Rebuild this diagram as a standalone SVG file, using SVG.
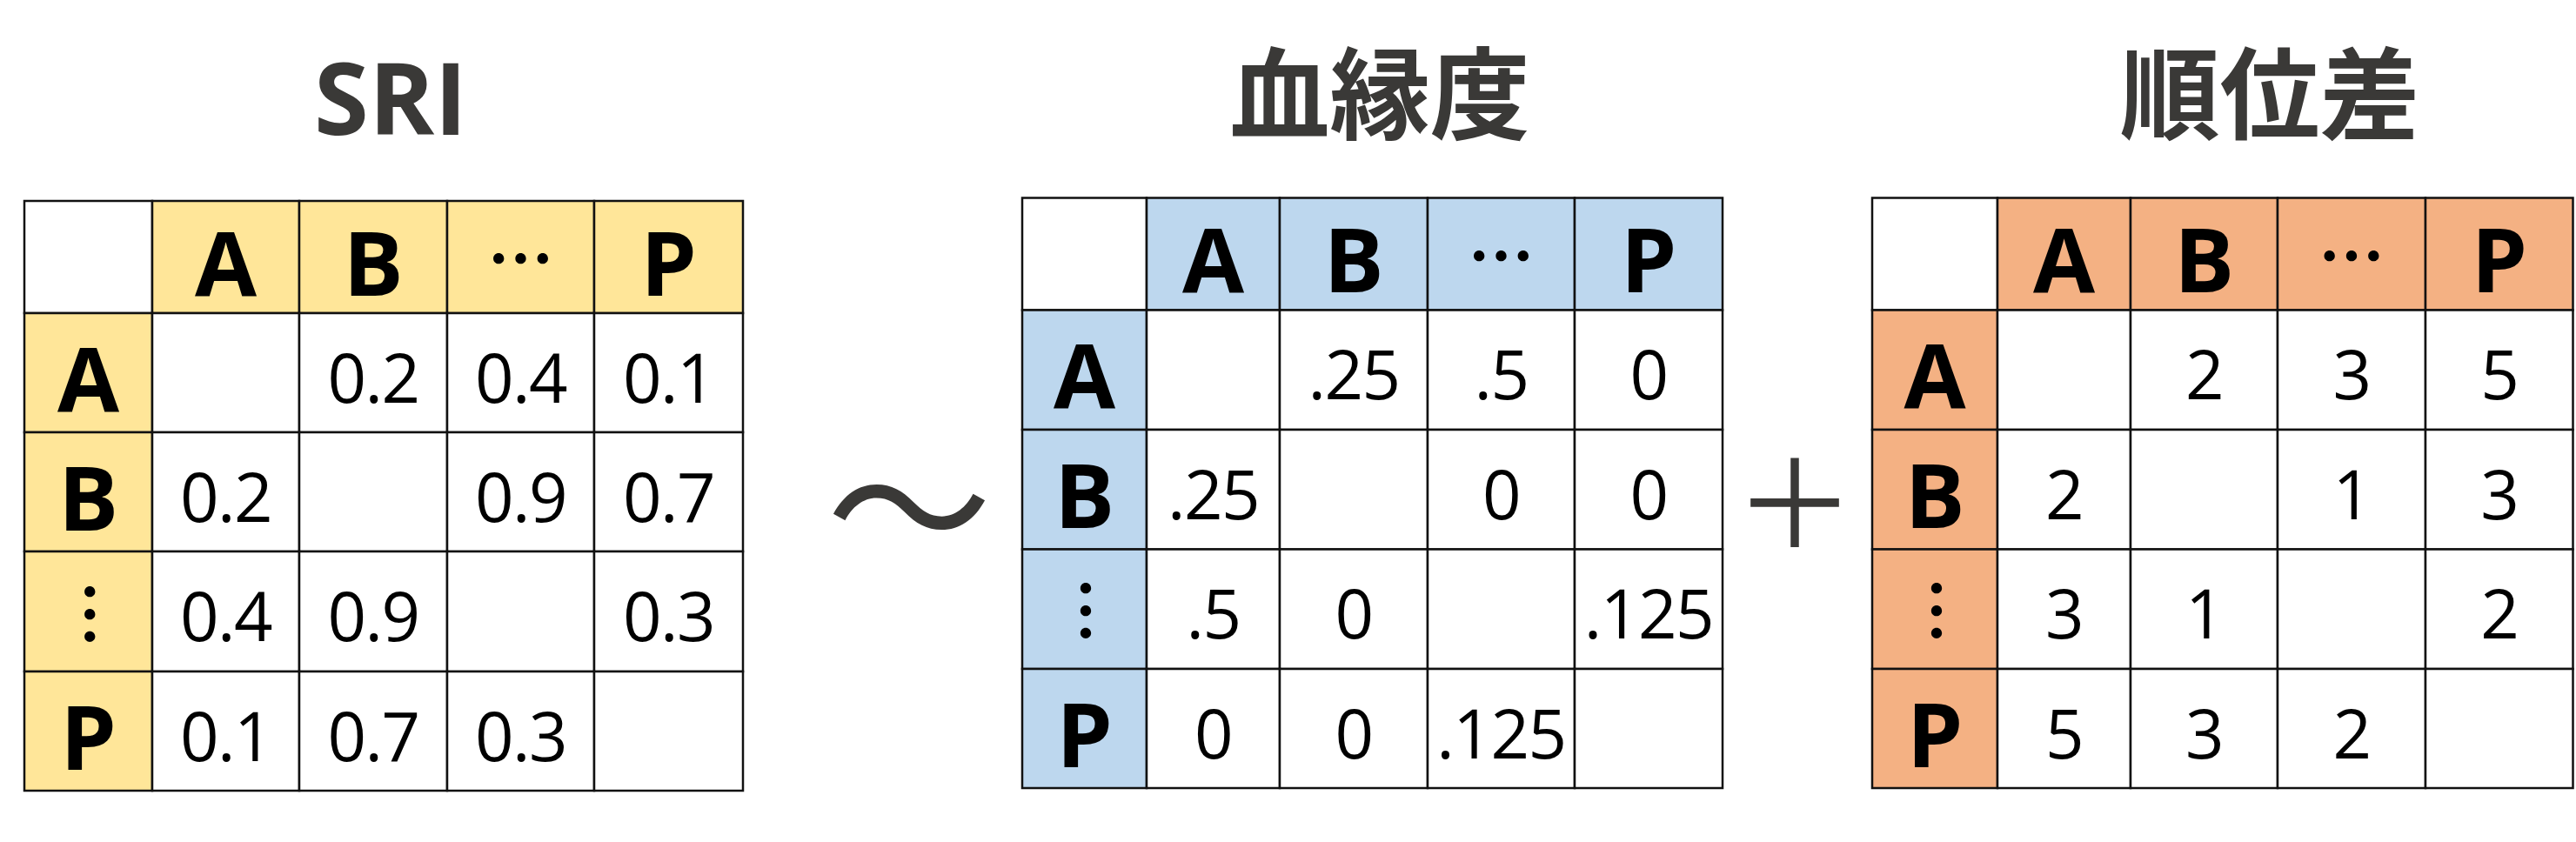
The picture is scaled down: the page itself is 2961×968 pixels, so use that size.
<svg xmlns="http://www.w3.org/2000/svg" width="2961" height="968" viewBox="0 0 2961 968">
<style>
.cell{stroke:#111;stroke-width:2.5}
.w{fill:#fff}
.y{fill:#FFE699}
.b{fill:#BDD7EE}
.o{fill:#F4B183}
.hd{font-family:"Open Sans","Noto Sans",sans-serif;font-weight:700;font-size:103px;fill:#000;text-anchor:middle}
.num{font-family:"Open Sans","Noto Sans",sans-serif;font-weight:400;font-size:78px;fill:#000;text-anchor:middle;letter-spacing:-1.5px}
.el{font-family:"Noto Sans CJK JP","DejaVu Sans",sans-serif;font-weight:700;font-size:76px;fill:#000;text-anchor:middle}
.ttl{font-family:"Open Sans","Noto Sans","Noto Sans CJK JP",sans-serif;font-weight:700;font-size:114px;fill:#3a3937;text-anchor:middle}
.cjk{font-family:"Noto Sans CJK JP",sans-serif;font-weight:700;font-size:115px;fill:#3a3937;text-anchor:middle}
.op{font-family:"Noto Sans CJK JP",sans-serif;fill:#3a3937;text-anchor:middle}
</style>
<rect width="2961" height="968" fill="#fff"/>

<g id="title-sri"><text class="ttl" x="449" y="155">SRI</text></g>
<g id="title-kinship"><text class="cjk" x="1586" y="151">血縁度</text></g>
<g id="title-rank"><text class="cjk" x="2609" y="151">順位差</text></g>

<g id="table-sri">
<rect class="cell w" x="28" y="231" width="147" height="129"/>
<rect class="cell y" x="175" y="231" width="169" height="129"/>
<rect class="cell y" x="344" y="231" width="170" height="129"/>
<rect class="cell y" x="514" y="231" width="169" height="129"/>
<rect class="cell y" x="683" y="231" width="171" height="129"/>
<rect class="cell y" x="28" y="360" width="147" height="137"/>
<rect class="cell y" x="28" y="497" width="147" height="137"/>
<rect class="cell y" x="28" y="634" width="147" height="138"/>
<rect class="cell y" x="28" y="772" width="147" height="137"/>
<rect class="cell w" x="175" y="360" width="169" height="137"/>
<rect class="cell w" x="344" y="360" width="170" height="137"/>
<rect class="cell w" x="514" y="360" width="169" height="137"/>
<rect class="cell w" x="683" y="360" width="171" height="137"/>
<rect class="cell w" x="175" y="497" width="169" height="137"/>
<rect class="cell w" x="344" y="497" width="170" height="137"/>
<rect class="cell w" x="514" y="497" width="169" height="137"/>
<rect class="cell w" x="683" y="497" width="171" height="137"/>
<rect class="cell w" x="175" y="634" width="169" height="138"/>
<rect class="cell w" x="344" y="634" width="170" height="138"/>
<rect class="cell w" x="514" y="634" width="169" height="138"/>
<rect class="cell w" x="683" y="634" width="171" height="138"/>
<rect class="cell w" x="175" y="772" width="169" height="137"/>
<rect class="cell w" x="344" y="772" width="170" height="137"/>
<rect class="cell w" x="514" y="772" width="169" height="137"/>
<rect class="cell w" x="683" y="772" width="171" height="137"/>
<text class="hd" x="259.5" y="339.5">A</text>
<text class="hd" x="429" y="339.5">B</text>
<text class="el" x="598.5" y="326.2">…</text>
<text class="hd" x="768.5" y="339.5">P</text>
<text class="hd" x="101.5" y="472.5">A</text>
<text class="hd" x="101.5" y="609.5">B</text>
<text class="el" x="103.3" y="734.6">︙</text>
<text class="hd" x="101.5" y="884.5">P</text>
<text class="num" x="429" y="462.5">0.2</text>
<text class="num" x="598.5" y="462.5">0.4</text>
<text class="num" x="768.5" y="462.5">0.1</text>
<text class="num" x="259.5" y="599.5">0.2</text>
<text class="num" x="598.5" y="599.5">0.9</text>
<text class="num" x="768.5" y="599.5">0.7</text>
<text class="num" x="259.5" y="737">0.4</text>
<text class="num" x="429" y="737">0.9</text>
<text class="num" x="768.5" y="737">0.3</text>
<text class="num" x="259.5" y="874.5">0.1</text>
<text class="num" x="429" y="874.5">0.7</text>
<text class="num" x="598.5" y="874.5">0.3</text>
</g>

<g id="table-kinship">
<rect class="cell w" x="1175" y="227.5" width="143" height="129"/>
<rect class="cell b" x="1318" y="227.5" width="153" height="129"/>
<rect class="cell b" x="1471" y="227.5" width="170" height="129"/>
<rect class="cell b" x="1641" y="227.5" width="169" height="129"/>
<rect class="cell b" x="1810" y="227.5" width="170" height="129"/>
<rect class="cell b" x="1175" y="356.5" width="143" height="137.5"/>
<rect class="cell b" x="1175" y="494" width="143" height="137.5"/>
<rect class="cell b" x="1175" y="631.5" width="143" height="137.5"/>
<rect class="cell b" x="1175" y="769" width="143" height="137"/>
<rect class="cell w" x="1318" y="356.5" width="153" height="137.5"/>
<rect class="cell w" x="1471" y="356.5" width="170" height="137.5"/>
<rect class="cell w" x="1641" y="356.5" width="169" height="137.5"/>
<rect class="cell w" x="1810" y="356.5" width="170" height="137.5"/>
<rect class="cell w" x="1318" y="494" width="153" height="137.5"/>
<rect class="cell w" x="1471" y="494" width="170" height="137.5"/>
<rect class="cell w" x="1641" y="494" width="169" height="137.5"/>
<rect class="cell w" x="1810" y="494" width="170" height="137.5"/>
<rect class="cell w" x="1318" y="631.5" width="153" height="137.5"/>
<rect class="cell w" x="1471" y="631.5" width="170" height="137.5"/>
<rect class="cell w" x="1641" y="631.5" width="169" height="137.5"/>
<rect class="cell w" x="1810" y="631.5" width="170" height="137.5"/>
<rect class="cell w" x="1318" y="769" width="153" height="137"/>
<rect class="cell w" x="1471" y="769" width="170" height="137"/>
<rect class="cell w" x="1641" y="769" width="169" height="137"/>
<rect class="cell w" x="1810" y="769" width="170" height="137"/>
<text class="hd" x="1394.5" y="336">A</text>
<text class="hd" x="1556" y="336">B</text>
<text class="el" x="1725.5" y="322.7">…</text>
<text class="hd" x="1895" y="336">P</text>
<text class="hd" x="1246.5" y="469.25">A</text>
<text class="hd" x="1246.5" y="606.75">B</text>
<text class="el" x="1248" y="731.3">︙</text>
<text class="hd" x="1246.5" y="881.5">P</text>
<text class="num" x="1556" y="459.25">.25</text>
<text class="num" x="1725.5" y="459.25">.5</text>
<text class="num" x="1895" y="459.25">0</text>
<text class="num" x="1394.5" y="596.75">.25</text>
<text class="num" x="1725.5" y="596.75">0</text>
<text class="num" x="1895" y="596.75">0</text>
<text class="num" x="1394.5" y="734.25">.5</text>
<text class="num" x="1556" y="734.25">0</text>
<text class="num" x="1895" y="734.25">.125</text>
<text class="num" x="1394.5" y="871.5">0</text>
<text class="num" x="1556" y="871.5">0</text>
<text class="num" x="1725.5" y="871.5">.125</text>
</g>

<g id="table-rank">
<rect class="cell w" x="2152" y="227.5" width="144" height="129"/>
<rect class="cell o" x="2296" y="227.5" width="153" height="129"/>
<rect class="cell o" x="2449" y="227.5" width="169" height="129"/>
<rect class="cell o" x="2618" y="227.5" width="170" height="129"/>
<rect class="cell o" x="2788" y="227.5" width="169.5" height="129"/>
<rect class="cell o" x="2152" y="356.5" width="144" height="137.5"/>
<rect class="cell o" x="2152" y="494" width="144" height="137.5"/>
<rect class="cell o" x="2152" y="631.5" width="144" height="137.5"/>
<rect class="cell o" x="2152" y="769" width="144" height="137"/>
<rect class="cell w" x="2296" y="356.5" width="153" height="137.5"/>
<rect class="cell w" x="2449" y="356.5" width="169" height="137.5"/>
<rect class="cell w" x="2618" y="356.5" width="170" height="137.5"/>
<rect class="cell w" x="2788" y="356.5" width="169.5" height="137.5"/>
<rect class="cell w" x="2296" y="494" width="153" height="137.5"/>
<rect class="cell w" x="2449" y="494" width="169" height="137.5"/>
<rect class="cell w" x="2618" y="494" width="170" height="137.5"/>
<rect class="cell w" x="2788" y="494" width="169.5" height="137.5"/>
<rect class="cell w" x="2296" y="631.5" width="153" height="137.5"/>
<rect class="cell w" x="2449" y="631.5" width="169" height="137.5"/>
<rect class="cell w" x="2618" y="631.5" width="170" height="137.5"/>
<rect class="cell w" x="2788" y="631.5" width="169.5" height="137.5"/>
<rect class="cell w" x="2296" y="769" width="153" height="137"/>
<rect class="cell w" x="2449" y="769" width="169" height="137"/>
<rect class="cell w" x="2618" y="769" width="170" height="137"/>
<rect class="cell w" x="2788" y="769" width="169.5" height="137"/>
<text class="hd" x="2372.5" y="336">A</text>
<text class="hd" x="2533.5" y="336">B</text>
<text class="el" x="2703" y="322.7">…</text>
<text class="hd" x="2872.75" y="336">P</text>
<text class="hd" x="2224" y="469.25">A</text>
<text class="hd" x="2224" y="606.75">B</text>
<text class="el" x="2226" y="731.3">︙</text>
<text class="hd" x="2224" y="881.5">P</text>
<text class="num" x="2533.5" y="459.25">2</text>
<text class="num" x="2703" y="459.25">3</text>
<text class="num" x="2872.75" y="459.25">5</text>
<text class="num" x="2372.5" y="596.75">2</text>
<text class="num" x="2703" y="596.75">1</text>
<text class="num" x="2872.75" y="596.75">3</text>
<text class="num" x="2372.5" y="734.25">3</text>
<text class="num" x="2533.5" y="734.25">1</text>
<text class="num" x="2872.75" y="734.25">2</text>
<text class="num" x="2372.5" y="871.5">5</text>
<text class="num" x="2533.5" y="871.5">3</text>
<text class="num" x="2703" y="871.5">2</text>
</g>

<g id="operators">
<text class="op" x="1045" y="655" font-size="190">～</text>
<text class="op" x="2063" y="630" font-size="140">＋</text>
</g>
</svg>
